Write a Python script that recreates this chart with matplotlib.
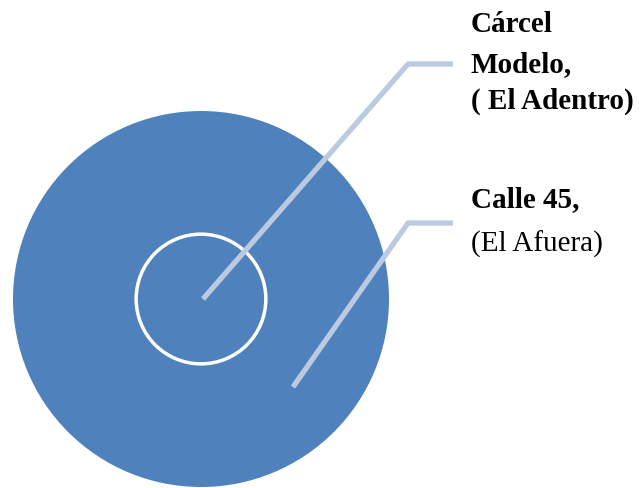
import matplotlib.pyplot as plt
from matplotlib.patches import Circle

# datos del diagrama (radios relativos)
etiquetas = ['Cárcel\nModelo,\n( El Adentro)', 'Calle 45,\n(El Afuera)']
radios = [0.345, 1.0]

fig = plt.figure(figsize=(6.44, 4.89), dpi=100)
ax = fig.add_axes([0, 0, 1, 1])
ax.set_xlim(0, 644)
ax.set_ylim(489, 0)
ax.set_aspect('equal')
ax.axis('off')

cx, cy, R = 201, 300, 188
azul = '#4F81BD'
gris = '#BCCAE1'

ax.add_patch(Circle((cx, cy), R * radios[1], facecolor=azul, edgecolor='none'))
ax.add_patch(Circle((cx, cy), R * radios[0], facecolor='none', edgecolor='white', linewidth=2.5))

# lineas guia
ax.plot([cx + 2, 408, 453], [cy, 65, 65], color=gris, linewidth=3.8, solid_capstyle='butt')
ax.plot([293, 408, 453], [388, 224, 224], color=gris, linewidth=3.8, solid_capstyle='butt')

# etiquetas, linea por linea
lineas_base = [[32, 72, 109], [207, 252]]
pesos = [['bold', 'bold', 'bold'], ['bold', 'normal']]
for etiqueta, bases, ws in zip(etiquetas, lineas_base, pesos):
    for linea, y, w in zip(etiqueta.split('\n'), bases, ws):
        ax.text(471, y, linea, fontsize=21, family='Liberation Serif', fontweight=w,
                va='baseline', ha='left')

plt.savefig('out.png', dpi=100)
